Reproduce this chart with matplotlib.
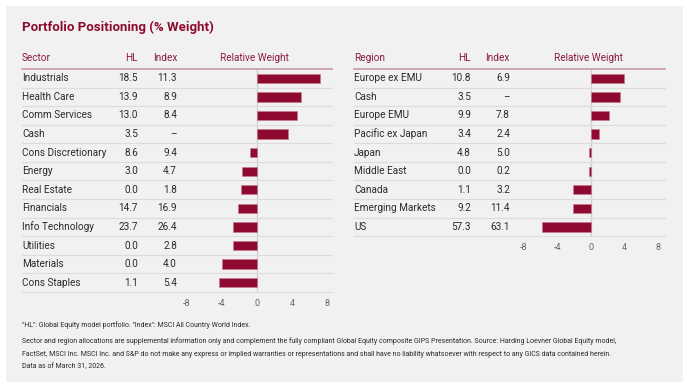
import matplotlib
matplotlib.use('Agg')
from matplotlib import pyplot as plt
from matplotlib.lines import Line2D
from matplotlib.patches import Rectangle

# data
sectors = ['Industrials', 'Health Care', 'Comm Services', 'Cash', 'Cons Discretionary', 'Energy',
           'Real Estate', 'Financials', 'Info Technology', 'Utilities', 'Materials', 'Cons Staples']
sector_hl = ['18.5', '13.9', '13.0', '3.5', '8.6', '3.0', '0.0', '14.7', '23.7', '0.0', '0.0', '1.1']
sector_index = ['11.3', '8.9', '8.4', '\u2013', '9.4', '4.7', '1.8', '16.9', '26.4', '2.8', '4.0', '5.4']
sector_rel = [7.2, 5.0, 4.6, 3.5, -0.8, -1.7, -1.8, -2.2, -2.7, -2.8, -4.0, -4.3]

regions = ['Europe ex EMU', 'Cash', 'Europe EMU', 'Pacific ex Japan', 'Japan', 'Middle East',
           'Canada', 'Emerging Markets', 'US']
region_hl = ['10.8', '3.5', '9.9', '3.4', '4.8', '0.0', '1.1', '9.2', '57.3']
region_index = ['6.9', '\u2013', '7.8', '2.4', '5.0', '0.2', '3.2', '11.4', '63.1']
region_rel = [3.9, 3.5, 2.1, 1.0, -0.2, -0.2, -2.1, -2.2, -5.8]

ticks = [-8, -4, 0, 4, 8]

W, H = 688, 390
RED = '#8e0a30'
HEAD = '#8b1a3c'
TXT = '#2b2b2b'
plt.rcParams['font.family'] = ['Roboto', 'DejaVu Sans']

fig = plt.figure(figsize=(W / 100, H / 100), dpi=100, facecolor='white')


def fx(px):
    return px / W


def fy(py):
    return 1 - py / H


# panel background
fig.add_artist(Rectangle((fx(6), fy(382)), fx(683) - fx(6), fy(6) - fy(382),
                         transform=fig.transFigure, facecolor='#f0f1f0', edgecolor='none', zorder=0))

fig.text(fx(22), fy(27), 'Portfolio Positioning (% Weight)', color=RED, fontsize=9.5,
         fontweight='bold', va='center', ha='left')


def table(x0, x1, hl_x, idx_x, rel_cx, zero_x, ppu, label, names, hl, idx, rel):
    top = 69
    rh = 18.58
    n = len(names)
    bottom = top + rh * n
    head_y = 58
    fig.text(fx(x0), fy(head_y), label, color=HEAD, fontsize=7.2, va='center', ha='left')
    fig.text(fx(hl_x), fy(head_y), 'HL', color=HEAD, fontsize=7.2, va='center', ha='right')
    fig.text(fx(idx_x), fy(head_y), 'Index', color=HEAD, fontsize=7.2, va='center', ha='right')
    fig.text(fx(rel_cx), fy(head_y), 'Relative Weight', color=HEAD, fontsize=7.2, va='center', ha='center')
    for i in range(n):
        yc = top + rh * (i + 0.5)
        fig.text(fx(x0), fy(yc), names[i], color=TXT, fontsize=7.2, va='center', ha='left')
        fig.text(fx(hl_x), fy(yc), hl[i], color=TXT, fontsize=7.2, va='center', ha='right')
        fig.text(fx(idx_x), fy(yc), idx[i], color=TXT, fontsize=7.2, va='center', ha='right')
        yl = top + rh * (i + 1)
        fig.add_artist(Line2D([fx(x0), fx(x1)], [fy(yl), fy(yl)], transform=fig.transFigure,
                              color='#dcdcdc', lw=0.8, zorder=1))
    fig.add_artist(Line2D([fx(x0), fx(x1)], [fy(top), fy(top)], transform=fig.transFigure,
                          color='#c99aa8', lw=1.2, zorder=2))

    # bar axes
    ax_l = zero_x - 9.2 * ppu
    ax_r = x1
    ax = fig.add_axes([fx(ax_l), fy(bottom), fx(ax_r) - fx(ax_l), fy(top) - fy(bottom)])
    ax.set_facecolor('none')
    ax.set_xlim(-9.2, (ax_r - zero_x) / ppu)
    ax.set_ylim(n, 0)
    ax.barh([i + 0.5 for i in range(n)], rel, height=0.5, color=RED,
            edgecolor='#c77890', linewidth=0.4, zorder=3)
    ax.axvline(0, color='#d0d0d0', lw=1, zorder=2)
    for s in ax.spines.values():
        s.set_visible(False)
    ax.set_yticks([])
    ax.set_xticks(ticks)
    ax.set_xticklabels([str(t) for t in ticks])
    ax.tick_params(axis='x', length=0, pad=5, labelsize=6.5, labelcolor='#666666')


table(22, 332, 138, 177, 254, 257, 8.75, 'Sector', sectors, sector_hl, sector_index, sector_rel)
table(354, 665, 471, 510, 588, 591, 8.4, 'Region', regions, region_hl, region_index, region_rel)

# footnotes
fig.text(fx(22), fy(325), '"HL": Global Equity model portfolio. "Index": MSCI All Country World Index.',
         fontsize=5.0, color=TXT, va='center')
notes = ['Sector and region allocations are supplemental information only and complement the fully compliant Global Equity composite GIPS Presentation. Source: Harding Loevner Global Equity model,',
         'FactSet, MSCI Inc. MSCI Inc. and S&P do not make any express or implied warranties or representations and shall have no liability whatsoever with respect to any GICS data contained herein.',
         'Data as of March 31, 2026.']
for k, line in enumerate(notes):
    fig.text(fx(22), fy(341 + 13 * k), line, fontsize=5.0, color=TXT, va='center')

fig.savefig('out.png', dpi=100, facecolor='white')
